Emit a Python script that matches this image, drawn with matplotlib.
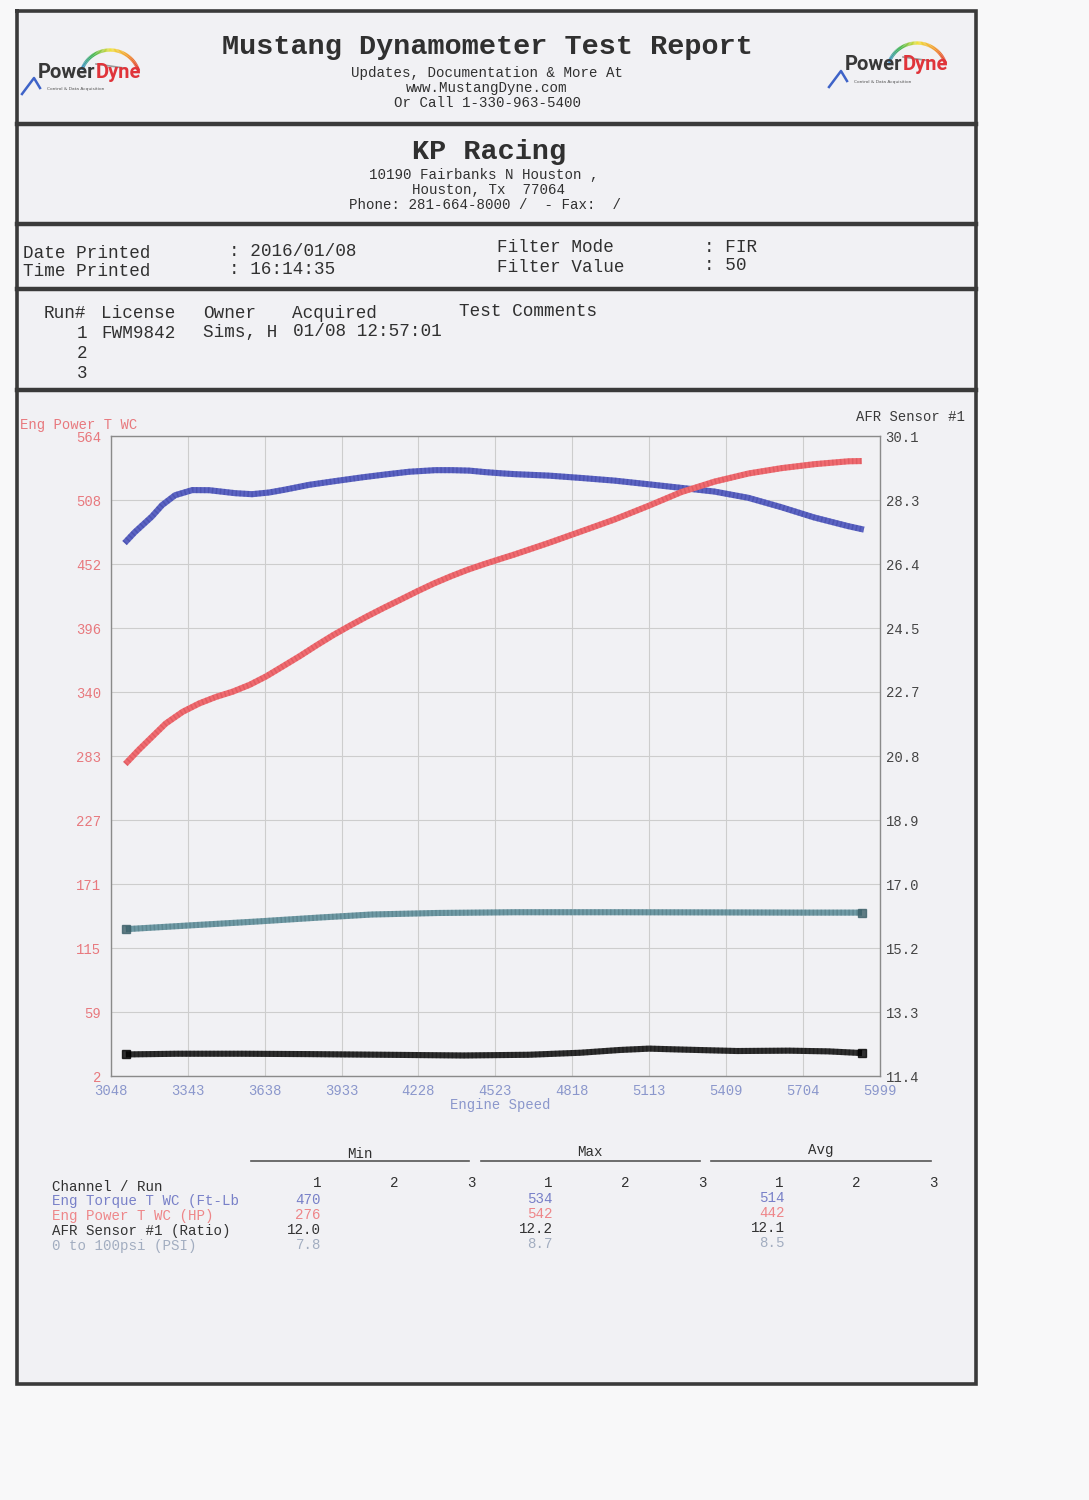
import numpy as np
import matplotlib.pyplot as plt
from matplotlib.collections import LineCollection
from matplotlib.colors import LinearSegmentedColormap

W, H = 1089, 1500
MONO = 'Liberation Mono'

# ---- dyno curves ----
rpm_torque = [3100, 3139, 3205, 3244, 3294, 3360, 3425, 3524, 3589, 3655, 3716, 3808,
              3908, 4012, 4100, 4192, 4292, 4357, 4423, 4483, 4548, 4598, 4729, 4855,
              4981, 5111, 5238, 5364, 5494, 5620, 5746, 5876, 5937]
torque = [470, 479.5, 493.3, 503.3, 512.0, 516.5, 516.4, 513.8, 512.9, 514.4, 516.9, 521.1,
          524.4, 527.7, 530.2, 532.6, 534.0, 534.0, 533.6, 532.3, 531.2, 530.5, 529.2, 527.1,
          524.8, 521.6, 518.4, 515.2, 509.7, 501.5, 492.5, 484.9, 481.8]

rpm_power = [3103, 3155, 3193, 3258, 3323, 3387, 3451, 3515, 3580, 3644, 3708, 3773,
             3837, 3901, 3966, 4030, 4094, 4159, 4223, 4287, 4352, 4416, 4480, 4544,
             4594, 4725, 4852, 4979, 5110, 5237, 5365, 5495, 5622, 5749, 5879, 5929]
power = [276, 288.5, 297.0, 311.5, 321.8, 329.2, 334.9, 339.5, 345.5, 353.0, 361.8, 370.8,
         380.2, 389.2, 397.6, 405.5, 413.0, 420.3, 427.6, 434.5, 440.8, 446.5, 451.5, 456.2,
         459.8, 469.9, 480.2, 490.6, 502.6, 514.8, 524.0, 531.1, 535.8, 539.3, 541.8, 542.0]

rpm_afr = [3105, 3300, 3550, 3800, 4100, 4400, 4650, 4850, 5000, 5113, 5250, 5450, 5650, 5800, 5930]
afr = [12.03, 12.05, 12.05, 12.04, 12.02, 12.0, 12.02, 12.08, 12.16, 12.2, 12.17, 12.13, 12.14, 12.12, 12.07]

rpm_psi = [3105, 3350, 3600, 3850, 4050, 4300, 4600, 5000, 5400, 5700, 5930]
psi = [7.8, 8.0, 8.2, 8.42, 8.58, 8.66, 8.7, 8.7, 8.69, 8.68, 8.68]

x_ticks = [3048, 3343, 3638, 3933, 4228, 4523, 4818, 5113, 5409, 5704, 5999]
left_labels = ['2', '59', '115', '171', '227', '283', '340', '396', '452', '508', '564']
right_labels = ['11.4', '13.3', '15.2', '17.0', '18.9', '20.8', '22.7', '24.5', '26.4', '28.3', '30.1']

# ---- summary table ----
channels = ['Eng Torque T WC (Ft-Lb', 'Eng Power T WC (HP)', 'AFR Sensor #1 (Ratio)', '0 to 100psi (PSI)']
min_vals = ['470', '276', '12.0', '7.8']
max_vals = ['534', '542', '12.2', '8.7']
avg_vals = ['514', '442', '12.1', '8.5']

C_TORQUE = '#5b63c2'
C_POWER = '#ef6b70'
C_AFR = '#2e2e2e'
C_PSI = '#6f9aa5'
INK = '#303030'

fig = plt.figure(figsize=(W / 100, H / 100), dpi=100, facecolor='#f8f8f9')
page = fig.add_axes([0, 0, 1, 1])
page.set_xlim(0, W)
page.set_ylim(H, 0)
page.axis('off')

# page frame and section rules
L, R, T, B = 17, 976, 11, 1384
page.fill([L, R, R, L], [T, T, B, B], color='#f1f1f4', zorder=0)
page.plot([L, R, R, L, L], [T, T, B, B, T], color='#3a3a3a', lw=2.6, solid_joinstyle='miter')
for yy in [124, 224, 289, 390]:
    page.plot([L, R], [yy, yy], color='#3a3a3a', lw=3.2)


def txt(x, y, s, size=10.2, color=INK, ha='left', bold=False):
    page.text(x, y, s, fontsize=size, color=color, ha=ha, va='center', family=MONO,
              fontweight='bold' if bold else 'normal')


# header
txt(487, 47, 'Mustang Dynamometer Test Report', 20.5, ha='center', bold=True)
txt(487, 73, 'Updates, Documentation & More At', ha='center')
txt(487, 88, 'www.MustangDyne.com', ha='center')
txt(488, 103, 'Or Call 1-330-963-5400', ha='center')

txt(489, 152, 'KP Racing', 20.5, ha='center', bold=True)
txt(484, 175, '10190 Fairbanks N Houston ,', ha='center')
txt(489, 190, 'Houston, Tx  77064', ha='center')
txt(485, 205, 'Phone: 281-664-8000 /  - Fax:  /', ha='center')

txt(23, 254, 'Date Printed', 12.7)
txt(229, 251, ': 2016/01/08', 12.7)
txt(23, 272, 'Time Printed', 12.7)
txt(229, 270, ': 16:14:35', 12.7)
txt(497, 248, 'Filter Mode', 12.7)
txt(704, 247, ': FIR', 12.7)
txt(497, 267, 'Filter Value', 12.7)
txt(704, 266, ': 50', 12.7)

txt(44, 314, 'Run#', 12.7)
txt(101, 314, 'License', 12.7)
txt(203, 313, 'Owner', 12.7)
txt(292, 313, 'Acquired', 12.7)
txt(459, 311, 'Test Comments', 12.7)
txt(77, 333, '1', 12.7)
txt(101, 333, 'FWM9842', 12.7)
txt(203, 332, 'Sims, H', 12.7)
txt(293, 331, '01/08 12:57:01', 12.7)
txt(77, 353, '2', 12.7)
txt(77, 373, '3', 12.7)

# logos
arc_cmap = LinearSegmentedColormap.from_list('arc', ['#3b8fd4', '#3fb64c', '#f1e23a', '#f29a2b', '#e0292c'])


def draw_logo(ox, oy):
    ang = np.radians(np.linspace(160, 18, 60))
    cx, cy, r = ox + 110, oy + 80, 30
    px = cx + r * np.cos(ang)
    py = cy - r * np.sin(ang)
    segs = np.stack([np.column_stack([px[:-1], py[:-1]]), np.column_stack([px[1:], py[1:]])], axis=1)
    page.add_collection(LineCollection(segs, colors=arc_cmap(np.linspace(0, 1, len(segs))), lw=2.4))
    page.plot([ox + 96, ox + 124], [oy + 64, oy + 68], color='#9a9a9a', lw=1.2)
    page.plot([ox + 22, ox + 34, ox + 40], [oy + 94, oy + 78, oy + 88], color='#3e63c8', lw=1.8)
    t1 = page.text(ox + 38, oy + 72, 'Power', fontsize=14.5, family='Roboto', fontweight='bold',
                   color='#383838', ha='left', va='center')
    fig.canvas.draw()
    w = t1.get_window_extent().width
    page.text(ox + 38 + w, oy + 72, 'Dyne', fontsize=14.5, family='Roboto', fontweight='bold',
              color='#e0343a', ha='left', va='center')
    page.text(ox + 76, oy + 89, 'Control & Data Acquisition', fontsize=3.2, family='DejaVu Sans',
              color='#555555', ha='center', va='center')


draw_logo(0, 0)
draw_logo(807, -7)

# ---- chart ----
ax = fig.add_axes([111 / W, 1 - 1076 / H, 769 / W, 640 / H])
ax.set_facecolor('none')
ax.set_xlim(3048, 5999)
ax.set_ylim(2, 564)
ax.set_xticks(x_ticks)
ax.set_xticklabels([str(v) for v in x_ticks])
ax.set_yticks(np.linspace(2, 564, 11))
ax.set_yticklabels(left_labels)
ax.grid(True, color='#cdcdcd', lw=0.8)
ax.set_axisbelow(True)
ax.tick_params(length=0, labelsize=10, labelfontfamily=MONO)
ax.tick_params(axis='y', colors='#e8797e', pad=7)
ax.tick_params(axis='x', colors='#8b97cc', pad=6)
for sp in ax.spines.values():
    sp.set_color('#8a8a8a')
    sp.set_linewidth(1.0)

ax_psi = ax.twinx()
ax_psi.set_ylim(0, 34)
ax_psi.set_yticks([])
for sp in ax_psi.spines.values():
    sp.set_visible(False)

ax_afr = ax.twinx()
ax_afr.set_ylim(11.4, 30.1)
ax_afr.set_yticks(np.linspace(11.4, 30.1, 11))
ax_afr.set_yticklabels(right_labels)
ax_afr.tick_params(length=0, labelsize=10, labelfontfamily=MONO, colors='#444444', pad=4)
for sp in ax_afr.spines.values():
    sp.set_visible(False)


def thick(a, xs, ys, color, dark, ends=False):
    a.plot(xs, ys, color=color, lw=4.4, solid_capstyle='butt', solid_joinstyle='round')
    a.plot(xs, ys, color=dark, lw=4.4, alpha=0.3, linestyle=(0, (0.25, 0.4)), dash_capstyle='butt')
    if ends:
        a.plot([xs[0], xs[-1]], [ys[0], ys[-1]], 's', color=dark, ms=5.5, alpha=0.8)


thick(ax, rpm_torque, torque, C_TORQUE, '#2c3290')
thick(ax, rpm_power, power, C_POWER, '#c23c44')
thick(ax_psi, rpm_psi, psi, C_PSI, '#3b5f68', ends=True)
thick(ax_afr, rpm_afr, afr, C_AFR, '#000000', ends=True)

txt(20, 425, 'Eng Power T WC', 10, color='#e8797e')
txt(965, 417, 'AFR Sensor #1', 10, color='#3a3a3a', ha='right')
txt(500, 1105, 'Engine Speed', 10, color='#8b97cc', ha='center')

# ---- min / max / avg table ----
for cx, name, yy in [(360, 'Min', 1154), (590, 'Max', 1152), (821, 'Avg', 1150)]:
    txt(cx, yy, name, ha='center')
for x0, x1 in [(251, 469), (481, 700), (711, 931)]:
    page.plot([x0, x1], [1161, 1161], color='#555555', lw=1.2)

txt(52, 1187, 'Channel / Run')
for base in [317, 548, 779]:
    for k in range(3):
        txt(base + 77 * k, 1183, str(k + 1), ha='center')

row_colors = ['#7880c8', '#ee8689', '#333333', '#a2adc0']
for i, name in enumerate(channels):
    yy = 1201 + 15 * i
    txt(52, yy, name, color=row_colors[i])
    txt(321, yy - 1, min_vals[i], color=row_colors[i], ha='right')
    txt(553, yy - 2, max_vals[i], color=row_colors[i], ha='right')
    txt(785, yy - 3, avg_vals[i], color=row_colors[i], ha='right')

fig.savefig('out.png', dpi=100, facecolor=fig.get_facecolor())
